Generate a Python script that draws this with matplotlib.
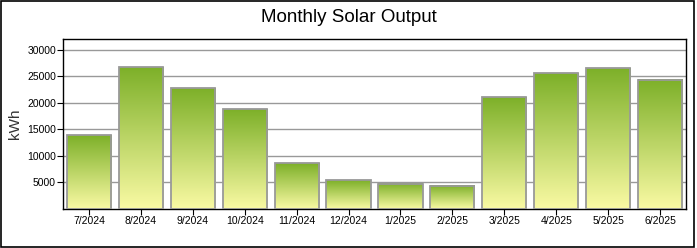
import numpy as np
import matplotlib
matplotlib.use("Agg")
import matplotlib.pyplot as plt
from matplotlib.colors import LinearSegmentedColormap
from matplotlib.patches import Rectangle

months = ['7/2024', '8/2024', '9/2024', '10/2024', '11/2024', '12/2024',
          '1/2025', '2/2025', '3/2025', '4/2025', '5/2025', '6/2025']
output_kwh = [13900, 26700, 22700, 18800, 8600, 5400,
              4800, 4400, 21000, 25600, 26500, 24300]
y_ticks = [5000, 10000, 15000, 20000, 25000, 30000]

plt.rcParams['font.family'] = ['Liberation Sans', 'DejaVu Sans']

fig = plt.figure(figsize=(6.97, 2.48), dpi=100)
ax = fig.add_axes([63 / 697, 1 - 209 / 248, 623 / 697, 170 / 248])

# bottom pale yellow -> top green
cmap = LinearSegmentedColormap.from_list('solar', ['#fafaa4', '#7db029'])
grad = np.linspace(0, 1, 256).reshape(-1, 1)

x = np.arange(len(months))
width = 0.85
bars = ax.bar(x, output_kwh, width=width, facecolor='none',
              edgecolor='#999999', linewidth=1.3, zorder=3)
for b in bars:
    x0 = b.get_x()
    h = b.get_height()
    ax.imshow(grad, extent=[x0, x0 + width, 0, h], origin='lower',
              aspect='auto', cmap=cmap, zorder=2, interpolation='bilinear')

ax.set_xlim(-0.5, len(months) - 0.5)
ax.set_ylim(0, 32000)
ax.set_yticks(y_ticks)
ax.set_yticklabels([str(v) for v in y_ticks], fontsize=7.5)
ax.set_xticks(x)
ax.set_xticklabels(months, fontsize=7.5)
ax.tick_params(axis='both', direction='out', length=4, width=0.8, pad=1)
ax.yaxis.grid(True, color='#999999', linewidth=1, zorder=0)
ax.set_axisbelow(True)
for s in ax.spines.values():
    s.set_linewidth(1)
    s.set_color('black')

ax.set_ylabel('kWh', fontsize=11, color='#333333', labelpad=4)
fig.text(0.5, 1 - 17 / 248, 'Monthly Solar Output', ha='center', va='center',
         fontsize=13.5)

fig.patches.append(Rectangle((0.002, 0.004), 0.994, 0.99, transform=fig.transFigure,
                             fill=False, edgecolor='black', linewidth=1.2))

fig.savefig('out.png', dpi=100)
